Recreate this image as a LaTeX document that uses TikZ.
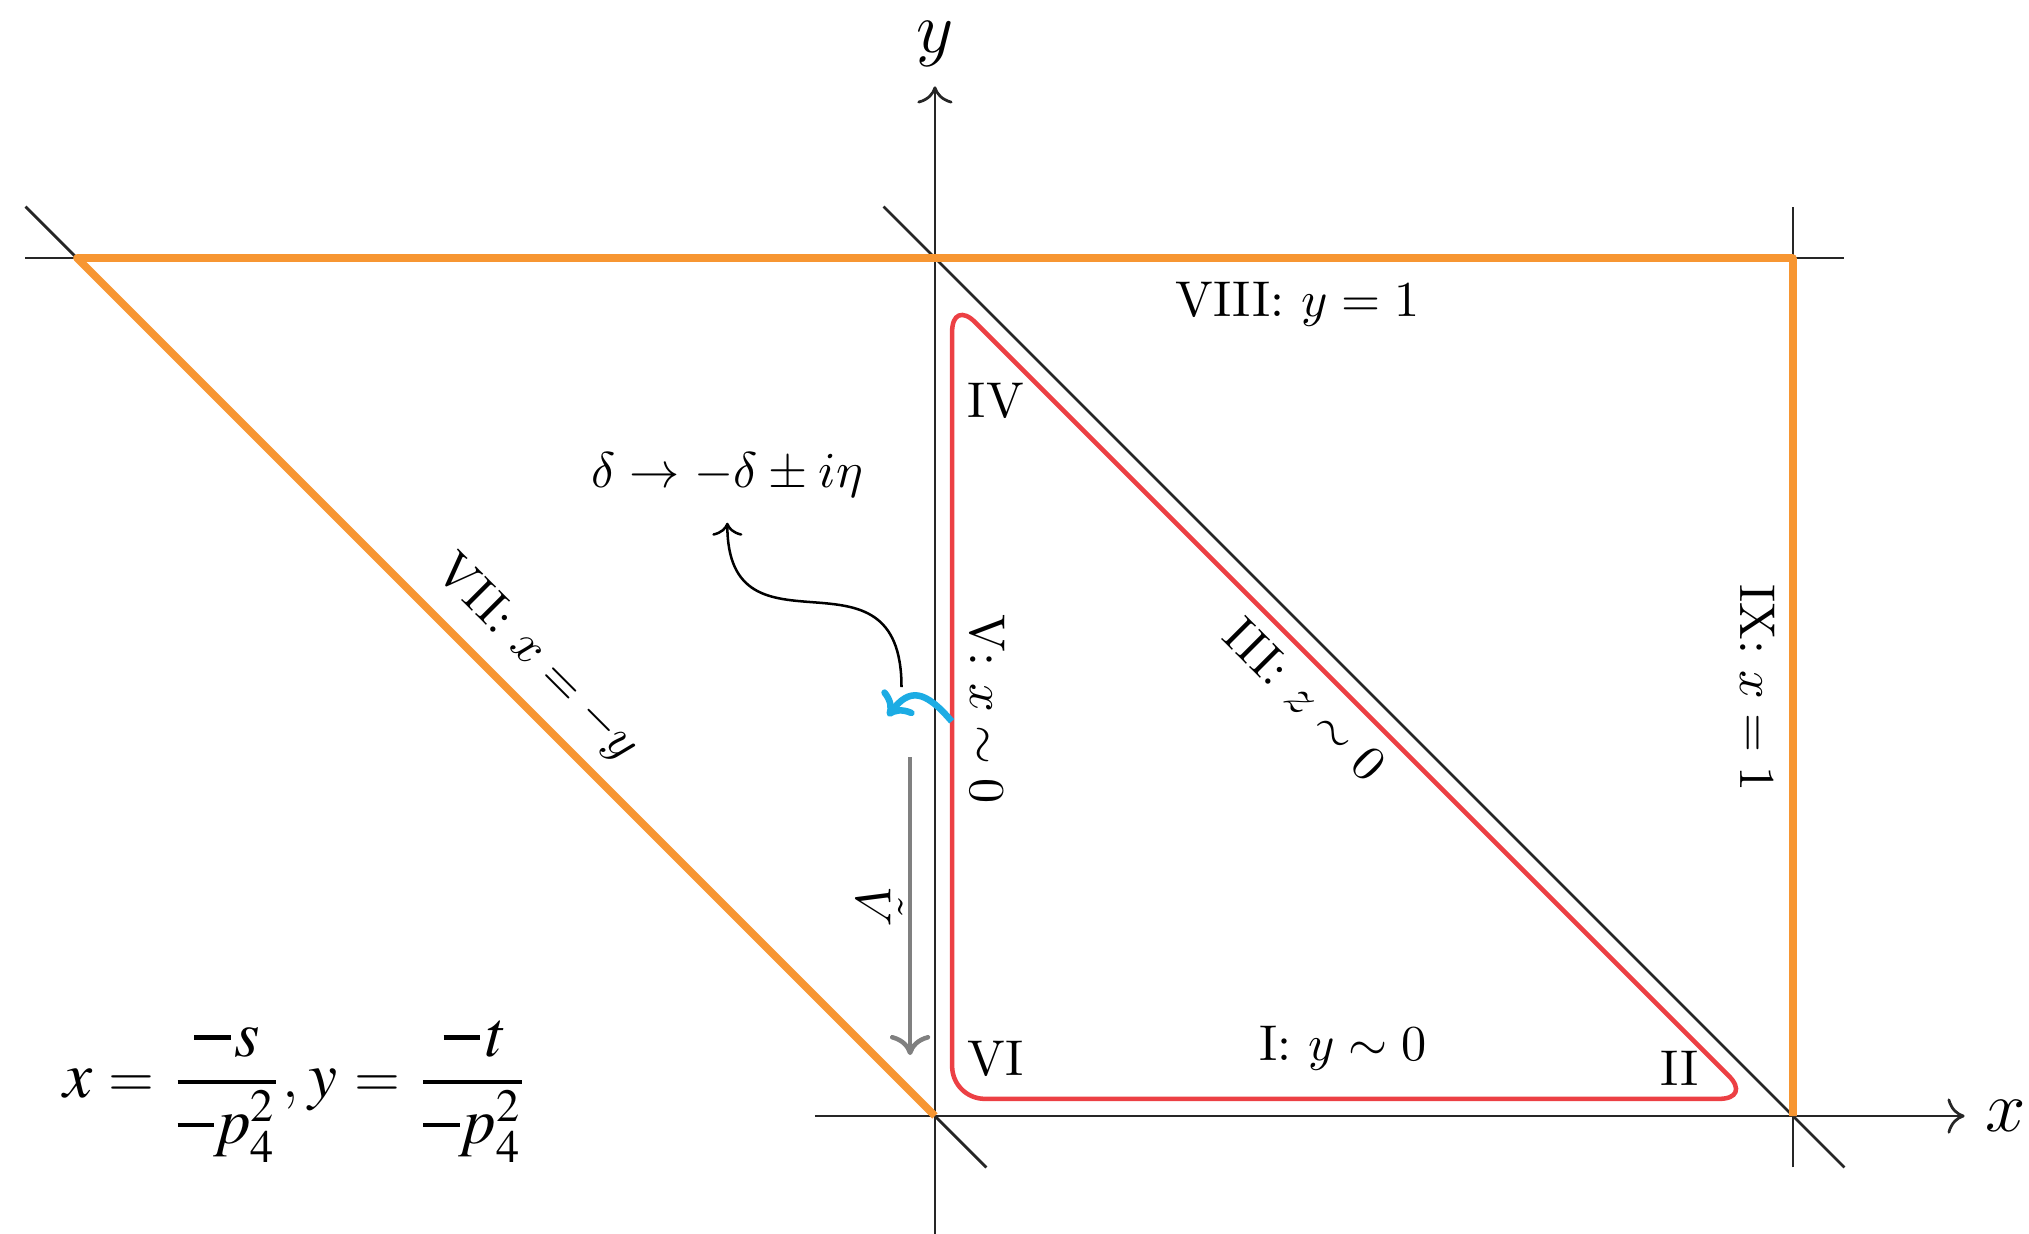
\documentclass[tikz,border=0pt]{standalone}
\usepackage{amsmath}
\usepackage{fontspec}
\usepackage[T1,TU]{fontenc}
\usepackage{tikz}
\usetikzlibrary{arrows.meta, calc}

\definecolor{edgeorange}{RGB}{247,150,50}
\definecolor{loopred}{RGB}{236,64,68}
\definecolor{hookblue}{RGB}{28,172,228}

% Times pieces for the variable definitions
\newcommand{\tmi}[1]{\hbox{\usefont{T1}{ptm}{m}{it}#1}}
\newcommand{\tmn}[1]{\hbox{\fontsize{9.2}{11}\usefont{T1}{ptm}{m}{n}#1}}
\newcommand{\tmm}{\rule[0.25em]{0.56em}{0.07em}\kern0.06em}
\newcommand{\tfr}[2]{\genfrac{}{}{0.8pt}{0}{#1}{\smash[t]{\raisebox{-1pt}{$#2$}}}}

\begin{document}
\begin{tikzpicture}[x=6cm, y=6cm, every node/.style={font=\normalsize},
  guide/.style={black!85, line width=0.55pt},
  axis/.style={guide, -{Computer Modern Rightarrow[length=3.4pt, width=7pt]}},
  edge/.style={edgeorange, line width=1.5pt, line join=round},
  contour/.style={loopred, line width=0.9pt, rounded corners=6.5pt}]
  \useasboundingbox (-1.0897,-0.1375) rectangle (1.2751,1.3007);
  % guide lines, slightly longer than the region edges
  \draw[guide] (-1.06,1) -- (1.06,1);          % y=1
  \draw[guide] (1,-0.06) -- (1,1.06);          % x=1
  \draw[guide] (-0.06,1.06) -- (1.06,-0.06);   % x+y=1
  \draw[guide] (-1.06,1.06) -- (0.06,-0.06);   % x=-y
  % axes
  \coordinate (xa) at (-0.14,0);
  \coordinate (xb) at (1.2,0);
  \coordinate (ya) at (0,-0.14);
  \coordinate (yb) at (0,1.2);
  \draw[axis] (xa) -- (xb);
  \draw[axis] (ya) -- (yb);
  \node (xlab) at (1.248,0) {\Large $x$};
  \node[inner sep=1pt] (ylab) at (0,1.25) {\Large $y$};
  % outer boundary (orange)
  \draw[edge] (0,0) -- (-1,1) -- (1,1) -- (1,0);
  % contour (red), just inside the triangle
  \draw[contour] (0.02,0.02) -- (0.952,0.02) -- (0.02,0.952) -- cycle;
  % region labels
  \node (lVIII) at (0.423,0.946) {VIII: $y=1$};
  \node (lIV)   at (0.071,0.833) {IV};
  \node (lVI)   at (0.071,0.067) {VI};
  \node (lII)   at (0.868,0.055) {II};
  \node (lI)    at (0.476,0.079) {I: $y\sim 0$};
  \node[rotate=-90] (lV)   at (0.061,0.474)  {V: $x\sim 0$};
  \node[rotate=-45] (lIII) at (0.432,0.486)  {III: $z\sim 0$};
  \node[rotate=-45] (lVII) at (-0.464,0.533) {VII: $x=-y$};
  \node[rotate=-90] (lIX)  at (0.959,0.499)  {IX: $x=1$};
  % V-tilde arrow along the y axis
  \coordinate (ga) at (-0.029,0.418);
  \coordinate (gb) at (-0.029,0.071);
  \draw[gray, line width=0.9pt, -{Computer Modern Rightarrow[length=4pt, width=8pt]}] (ga) -- (gb);
  \node[rotate=-90] (vtil) at (-0.064,0.244) {$\tilde{V}$};
  % hook across the axis and the continuation
  \coordinate (hstart) at (0.0195,0.46);
  \coordinate (htip) at (-0.055,0.466);
  \draw[hookblue, line width=1.3pt, -{Computer Modern Rightarrow[length=4pt, width=8pt]}]
    (hstart) .. controls (-0.012,0.497) and (-0.03,0.499) .. (htip);
  \coordinate (kink) at (-0.039,0.50);
  \node (shift) at (-0.242,0.747) {$\delta\to-\delta\pm i\eta$};
  \draw[line width=0.5pt, shorten >=1.5pt, -{Computer Modern Rightarrow[length=2.6pt, width=6pt]}]
    (kink) to[out=90, in=-90, looseness=1.6] (shift.south);
  % variable definitions
  \node (defs) at (-0.745,0.028) {\fontsize{13}{16}\selectfont
    $\tmi{x} = \tfr{\tmm\tmi{s}}{\tmm\tmi{p}^{\tmn{2}}_{\tmn{4}}},
     \tmi{y} = \tfr{\tmm\tmi{t}}{\tmm\tmi{p}^{\tmn{2}}_{\tmn{4}}}$};
\end{tikzpicture}
\end{document}
